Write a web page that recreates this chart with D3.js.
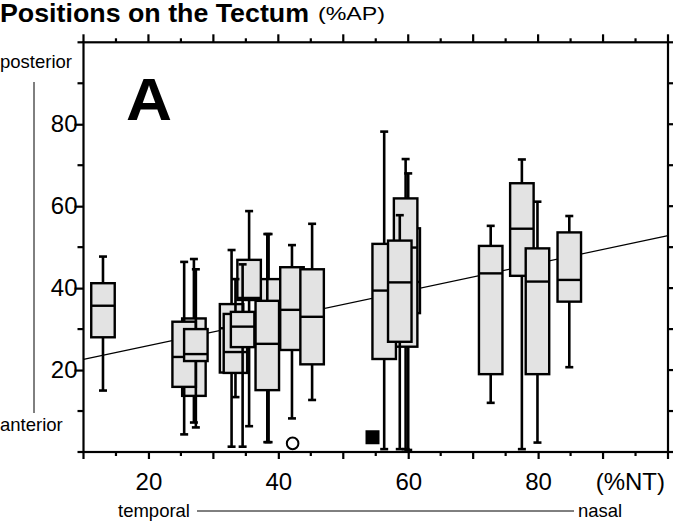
<!DOCTYPE html>
<html>
<head>
<meta charset="utf-8">
<script src="https://cdn.jsdelivr.net/npm/d3@7"></script>
<style>
  html, body { margin: 0; padding: 0; background: #fff; }
  svg { display: block; }
  text { font-family: "Liberation Sans", Arial, Helvetica, sans-serif; fill: #000; }
</style>
</head>
<body>
<svg id="chart" width="682" height="521"></svg>
<script>
// ---- data (in drawing order) ----
const boxX     = [13.0, 27.0, 25.5, 27.3, 38.5, 35.5, 32.8, 33.4, 34.5, 38.3, 42.1, 45.2, 60.0, 59.6, 56.3, 58.7, 72.7, 77.5, 79.9, 84.8];
const boxQ1    = [28.0, 13.7, 15.9, 22.2, 30.3, 37.1, 19.4, 19.3, 25.6, 15.1, 24.9, 21.4, 33.9, 25.7, 22.7, 26.9, 19.0, 43.0, 19.0, 36.7];
const boxMed   = [35.7, 26.0, 23.2, 23.9, 34.7, 37.6, 30.2, 24.4, 30.6, 26.4, 34.7, 33.0, 41.5, 49.9, 39.4, 41.4, 43.6, 54.5, 41.6, 42.0];
const boxQ3    = [41.2, 32.6, 31.8, 30.0, 42.2, 46.9, 36.1, 33.7, 34.2, 36.9, 45.1, 44.6, 54.6, 61.9, 50.8, 51.6, 50.3, 65.6, 49.7, 53.6];
const whiskLow = [15.0,  7.2,  4.3,  6.0,  2.4,  6.3,  1.3, 13.4,  1.3,  2.4,  8.2, 12.7,  0.5,  0.7,  0.7,  0.7, 12.0,  0.7,  2.3, 20.7];
const whiskHigh= [47.7, 47.1, 46.4, 44.6, 53.2, 58.8, 49.3, 42.2, 45.8, 53.2, 50.5, 55.7, 68.0, 71.5, 78.2, 57.8, 55.2, 71.4, 61.1, 57.6];

const fitX = [10, 100];
const fitY = [22.6, 52.8];

const circleX = [42.2], circleY = [2.1];
const squareX = [54.5], squareY = [3.6];

const xTickLabels = [20, 40, 60, 80];
const yTickLabels = [20, 40, 60, 80];

// ---- layout ----
const svg = d3.select("#chart");
const L = 83.5, R = 668, T = 42.3, B = 452;
const x = d3.scaleLinear().domain([10, 100]).range([L, R]);
const y = d3.scaleLinear().domain([0, 100]).range([B, T]);
const boxW = 23.5, capW = 8;

// title
svg.append("text").attr("x", 0).attr("y", 22).attr("font-weight", "bold").attr("font-size", 25)
  .attr("textLength", 309).attr("lengthAdjust", "spacingAndGlyphs").text("Positions on the Tectum");
svg.append("text").attr("x", 318).attr("y", 20).attr("font-size", 19)
  .attr("textLength", 67).attr("lengthAdjust", "spacingAndGlyphs").text("(%AP)");

// side labels
svg.append("text").attr("x", 0).attr("y", 68).attr("font-size", 18.5).text("posterior");
svg.append("text").attr("x", 0).attr("y", 431).attr("font-size", 18.5).text("anterior");
svg.append("line").attr("x1", 34).attr("x2", 34).attr("y1", 82).attr("y2", 413).attr("stroke", "#000").attr("stroke-width", 1);

svg.append("text").attr("x", 118).attr("y", 517).attr("font-size", 18.5).text("temporal");
svg.append("line").attr("x1", 197).attr("x2", 574).attr("y1", 511).attr("y2", 511).attr("stroke", "#000").attr("stroke-width", 1);
svg.append("text").attr("x", 578).attr("y", 517).attr("font-size", 18.5).text("nasal");

// panel letter
svg.append("text").attr("x", 126).attr("y", 120).attr("font-size", 60).attr("font-weight", "bold")
  .attr("textLength", 46).attr("lengthAdjust", "spacingAndGlyphs").text("A");

// regression line
const plot = svg.append("g");
plot.append("line")
  .attr("x1", x(fitX[0])).attr("y1", y(fitY[0]))
  .attr("x2", x(fitX[1])).attr("y2", y(fitY[1]))
  .attr("stroke", "#000").attr("stroke-width", 1.2);

// boxes
boxX.forEach((cx, i) => {
  const g = plot.append("g");
  const px = x(cx);
  g.append("line").attr("x1", px).attr("x2", px).attr("y1", y(boxQ3[i])).attr("y2", y(whiskHigh[i]))
    .attr("stroke", "#000").attr("stroke-width", 2.6);
  g.append("line").attr("x1", px).attr("x2", px).attr("y1", y(boxQ1[i])).attr("y2", y(whiskLow[i]))
    .attr("stroke", "#000").attr("stroke-width", 2.6);
  [whiskHigh[i], whiskLow[i]].forEach(v => {
    g.append("line").attr("x1", px - capW / 2).attr("x2", px + capW / 2).attr("y1", y(v)).attr("y2", y(v))
      .attr("stroke", "#000").attr("stroke-width", 2.6);
  });
  g.append("rect").attr("x", px - boxW / 2).attr("width", boxW)
    .attr("y", y(boxQ3[i])).attr("height", y(boxQ1[i]) - y(boxQ3[i]))
    .attr("fill", "#e3e3e3").attr("stroke", "#000").attr("stroke-width", 2.4);
  g.append("line").attr("x1", px - boxW / 2).attr("x2", px + boxW / 2).attr("y1", y(boxMed[i])).attr("y2", y(boxMed[i]))
    .attr("stroke", "#000").attr("stroke-width", 2.4);
});

// outliers
plot.selectAll(".circ").data(circleX).enter().append("circle")
  .attr("cx", (d) => x(d)).attr("cy", (d, i) => y(circleY[i])).attr("r", 5.8)
  .attr("fill", "#fff").attr("stroke", "#000").attr("stroke-width", 2);
plot.selectAll(".sq").data(squareX).enter().append("rect")
  .attr("x", (d) => x(d) - 7).attr("y", (d, i) => y(squareY[i]) - 7).attr("width", 14).attr("height", 14)
  .attr("fill", "#000");

// frame
svg.append("rect").attr("x", L).attr("y", T).attr("width", R - L).attr("height", B - T)
  .attr("fill", "none").attr("stroke", "#000").attr("stroke-width", 2.2);

// axes
const xMajor = d3.range(10, 101, 10), xMinor = d3.range(15, 100, 10);
const bottomAx = d3.axisBottom(x).tickValues(xTickLabels).tickSize(7).tickPadding(14).tickFormat(d3.format("d"));
const gb = svg.append("g").attr("transform", `translate(0,${B})`).call(bottomAx);
gb.select(".domain").remove();
gb.selectAll("text").attr("font-size", 24).attr("font-family", "Liberation Sans, Arial, sans-serif");
gb.selectAll("line").attr("stroke-width", 2.2);

function ticks(vals, orient, len) {
  vals.forEach(v => {
    let l;
    if (orient === "bottom") l = [x(v), B, x(v), B + len];
    if (orient === "top") l = [x(v), T, x(v), T - len];
    if (orient === "left") l = [L, y(v), L - len, y(v)];
    if (orient === "right") l = [R, y(v), R + len, y(v)];
    svg.append("line").attr("x1", l[0]).attr("y1", l[1]).attr("x2", l[2]).attr("y2", l[3])
      .attr("stroke", "#000").attr("stroke-width", 2.2);
  });
}
ticks(xMajor.filter(v => !xTickLabels.includes(v)), "bottom", 7);
ticks(xMinor, "bottom", 4);
ticks(xMajor, "top", 8);
ticks(xMinor, "top", 4);
ticks(d3.range(0, 101, 10).filter(v => !yTickLabels.includes(v)), "left", 6);
ticks(d3.range(0, 101, 10), "right", 5);

const leftAx = d3.axisLeft(y).tickValues(yTickLabels).tickSize(9).tickPadding(-3).tickFormat(d3.format("d"));
const gl = svg.append("g").attr("transform", `translate(${L},0)`).call(leftAx);
gl.select(".domain").remove();
gl.selectAll("text").attr("font-size", 24).attr("font-family", "Liberation Sans, Arial, sans-serif");
gl.selectAll("line").attr("stroke-width", 2.2);

svg.append("text").attr("x", 665).attr("y", 490).attr("text-anchor", "end").attr("font-size", 24).text("(%NT)");
</script>
</body>
</html>
